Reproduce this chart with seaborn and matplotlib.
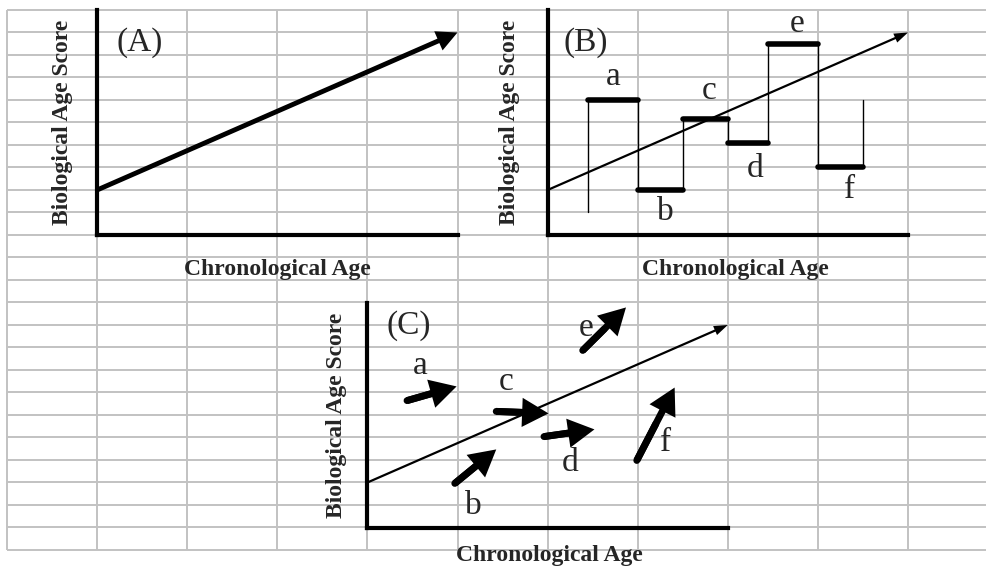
import numpy as np
import pandas as pd
import matplotlib.pyplot as plt
import seaborn as sns

# Planilha de fundo (células) e posição dos três painéis
W, H = 986, 568
col_px, row_px = 90.1, 22.5
x0_px, y0_px = 7, 10
n_cols, n_rows = 10, 24

# Painel: (coluna, linha do eixo x) da origem; cada painel ocupa 4 colunas x 10 linhas
panel_origin = {'A': (1, 10), 'B': (6, 10), 'C': (4, 23)}

# Linha de tendência (idade cronológica x escore de idade biológica)
trend_age = [0, 4]
trend_score = [2, 9]

# Painel B - medidas de cada indivíduo
b_subjects = ['a', 'b', 'c', 'd', 'e', 'f']
b_start = [0.45, 1.0, 1.5, 2.0, 2.45, 3.0]
b_end = [1.0, 1.5, 2.0, 2.45, 3.0, 3.5]
b_score = [6.0, 2.0, 5.15, 4.1, 8.5, 3.0]
b_first, b_last = 1.0, 6.0
b_label_x = [0.73, 1.31, 1.79, 2.30, 2.77, 3.35]
b_label_y = [6.67, 0.67, 6.04, 2.58, 9.02, 1.64]

# Painel C - mudanças individuais
c_subjects = ['a', 'b', 'c', 'd', 'e', 'f']
c_tail_age = [0.44, 0.97, 1.43, 1.96, 2.39, 2.99]
c_tail_score = [5.64, 1.96, 5.16, 4.04, 7.87, 2.98]
c_tip_age = [0.99, 1.43, 2.01, 2.52, 2.87, 3.41]
c_tip_score = [6.27, 3.47, 5.07, 4.36, 9.78, 6.22]
c_label_x = [0.59, 1.18, 1.54, 2.25, 2.43, 3.31]
c_label_y = [6.84, 0.62, 6.09, 2.53, 8.49, 3.38]

sns.set_style('white')
plt.rcParams['font.family'] = ['Liberation Serif', 'DejaVu Serif']

fig = plt.figure(figsize=(W / 100, H / 100), dpi=100)

# grade cinza da planilha
bg = fig.add_axes([0, 0, 1, 1])
bg.set_xlim(-x0_px / col_px, (W - x0_px) / col_px)
bg.set_ylim((H - y0_px) / row_px, -y0_px / row_px)
bg.vlines(range(n_cols + 1), 0, n_rows, color='#c2c2c2', lw=1.4)
bg.hlines(range(n_rows + 1), 0, (W - x0_px) / col_px, color='#c2c2c2', lw=1.4)
bg.axis('off')


def make_panel(name):
    col, row = panel_origin[name]
    left = (x0_px + col * col_px) / W
    bottom = (H - (y0_px + row * row_px)) / H
    ax = fig.add_axes([left, bottom, 4 * col_px / W, 10 * row_px / H])
    ax.set_xlim(0, 4)
    ax.set_ylim(0, 10)
    ax.patch.set_alpha(0)
    for s in ['top', 'right']:
        ax.spines[s].set_visible(False)
    for s in ['left', 'bottom']:
        ax.spines[s].set_linewidth(3)
        ax.spines[s].set_color('black')
    ax.set_xticks([])
    ax.set_yticks([])
    return ax


def arrow(ax, x1, y1, x2, y2, tail, hl, hw):
    ax.annotate('', xy=(x2, y2), xytext=(x1, y1),
                arrowprops=dict(arrowstyle='simple,head_length=%g,head_width=%g,tail_width=%g' % (hl, hw, tail),
                                mutation_scale=1, fc='black', ec='none', lw=0,
                                shrinkA=0, shrinkB=0))


lab_font = dict(fontsize=17, fontweight='bold')
big_font = dict(fontsize=24)

# (A)
axA = make_panel('A')
arrow(axA, trend_age[0], trend_score[0], trend_age[1], trend_score[1], 3.5, 15, 15)
axA.text(0.47, 8.2, '(A)', ha='center', va='baseline', **big_font)
axA.text(-0.38, 5, 'Biological Age Score', rotation=90, ha='center', va='center', **lab_font)
axA.text(2.0, -1.78, 'Chronological Age', ha='center', va='baseline', **lab_font)

# (B)
axB = make_panel('B')
arrow(axB, trend_age[0], trend_score[0], trend_age[1], trend_score[1], 1.6, 10, 7)
step_x = [b_start[0]]
step_y = [b_first]
for s, e, v in zip(b_start, b_end, b_score):
    step_x += [s, e]
    step_y += [v, v]
step_x.append(b_end[-1])
step_y.append(b_last)
steps = pd.DataFrame({'age': step_x, 'score': step_y})
sns.lineplot(data=steps, x='age', y='score', sort=False, estimator=None,
             color='black', lw=1.0, ax=axB)
axB.hlines(b_score, b_start, b_end, color='black', lw=4.0, capstyle='round')
for lab, x, y in zip(b_subjects, b_label_x, b_label_y):
    axB.text(x, y, lab, ha='center', va='baseline', **big_font)
axB.text(0.42, 8.2, '(B)', ha='center', va='baseline', **big_font)
axB.text(-0.42, 5, 'Biological Age Score', rotation=90, ha='center', va='center', **lab_font)
axB.text(2.08, -1.78, 'Chronological Age', ha='center', va='baseline', **lab_font)
axB.set_xlabel('')
axB.set_ylabel('')
axB.set_xlim(0, 4)
axB.set_ylim(0, 10)

# (C)
axC = make_panel('C')
arrow(axC, trend_age[0], trend_score[0], trend_age[1], trend_score[1], 1.6, 10, 7)
for x1, y1, x2, y2 in zip(c_tail_age, c_tail_score, c_tip_age, c_tip_score):
    axC.plot([x1, (x1 + x2) / 2], [y1, (y1 + y2) / 2], color='black', lw=5,
             solid_capstyle='round')
    arrow(axC, x1, y1, x2, y2, 5, 19, 21)
for lab, x, y in zip(c_subjects, c_label_x, c_label_y):
    axC.text(x, y, lab, ha='center', va='baseline', **big_font)
axC.text(0.46, 8.62, '(C)', ha='center', va='baseline', **big_font)
axC.text(-0.34, 5, 'Biological Age Score', rotation=90, ha='center', va='center', **lab_font)
axC.text(2.02, -1.50, 'Chronological Age', ha='center', va='baseline', **lab_font)

fig.savefig('out.png', dpi=100)
